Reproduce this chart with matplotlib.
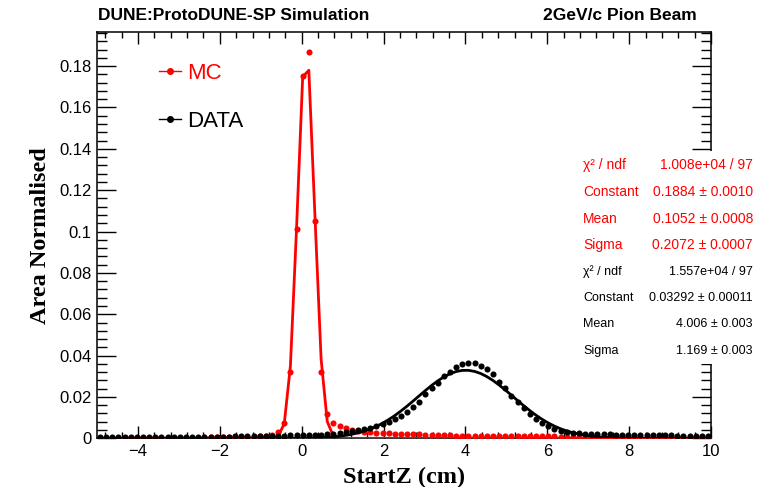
import numpy as np
import matplotlib
matplotlib.use('Agg')
import matplotlib.pyplot as plt
from matplotlib.ticker import MultipleLocator
from matplotlib.lines import Line2D
from matplotlib.patches import Rectangle

plt.rcParams['font.family'] = ['Liberation Sans', 'DejaVu Sans']

# histogram binning: 100 bins between -5 and 10 cm
x_low, x_high, n_bins = -5.0, 10.0, 100
bin_centres = x_low + (np.arange(n_bins) + 0.5) * (x_high - x_low) / n_bins

# MC (red), area normalised
mc_values = [
    0.0002, 0.0002, 0.0001, 0.0002, 0.0002, 0.0002, 0.0002, 0.0003, 0.0002, 0.0002,
    0.0003, 0.0002, 0.0003, 0.0003, 0.0003, 0.0003, 0.0003, 0.0004, 0.0004, 0.0004,
    0.0004, 0.0005, 0.0005, 0.0006, 0.0007, 0.0008, 0.0010, 0.0013, 0.0018, 0.0029,
    0.0072, 0.0321, 0.1013, 0.1754, 0.1870, 0.1051, 0.0321, 0.0118, 0.0076, 0.0060,
    0.0048, 0.0040, 0.0035, 0.0032, 0.0030, 0.0028, 0.0026, 0.0025, 0.0023, 0.0022,
    0.0021, 0.0020, 0.0019, 0.0018, 0.0017, 0.0016, 0.0015, 0.0014, 0.0013, 0.0012,
    0.0012, 0.0011, 0.0011, 0.0011, 0.0010, 0.0010, 0.0010, 0.0010, 0.0009, 0.0009,
    0.0009, 0.0009, 0.0009, 0.0009, 0.0009, 0.0008, 0.0006, 0.0005, 0.0004, 0.0003,
    0.0003, 0.0003, 0.0003, 0.0002, 0.0003, 0.0002, 0.0002, 0.0002, 0.0002, 0.0002,
    0.0002, 0.0002, 0.0001, 0.0002, 0.0002, 0.0001, 0.0002, 0.0001, 0.0001, 0.0001,
]

# DATA (black), area normalised
data_values = [
    0.0005, 0.0005, 0.0005, 0.0005, 0.0005, 0.0006, 0.0005, 0.0006, 0.0006, 0.0006,
    0.0006, 0.0006, 0.0007, 0.0006, 0.0007, 0.0007, 0.0007, 0.0007, 0.0008, 0.0008,
    0.0008, 0.0008, 0.0009, 0.0009, 0.0009, 0.0010, 0.0010, 0.0011, 0.0011, 0.0012,
    0.0013, 0.0014, 0.0014, 0.0015, 0.0015, 0.0016, 0.0017, 0.0020, 0.0023, 0.0027,
    0.0032, 0.0037, 0.0040, 0.0045, 0.0051, 0.0060, 0.0069, 0.0080, 0.0095, 0.0108,
    0.0129, 0.0150, 0.0177, 0.0213, 0.0242, 0.0269, 0.0301, 0.0322, 0.0343, 0.0359,
    0.0366, 0.0363, 0.0351, 0.0334, 0.0310, 0.0274, 0.0242, 0.0205, 0.0174, 0.0145,
    0.0118, 0.0093, 0.0076, 0.0060, 0.0047, 0.0037, 0.0030, 0.0027, 0.0026, 0.0022,
    0.0021, 0.0020, 0.0019, 0.0019, 0.0018, 0.0018, 0.0017, 0.0017, 0.0016, 0.0016,
    0.0015, 0.0015, 0.0014, 0.0014, 0.0013, 0.0013, 0.0012, 0.0012, 0.0011, 0.0011,
]

# gaussian fit results (constant, mean, sigma)
mc_fit = [0.1884, 0.1052, 0.2072]
data_fit = [0.03292, 4.006, 1.169]

stat_labels = ["\u03c7\u00b2 / ndf", "Constant", "Mean", "Sigma"]
mc_stat_values = ["1.008e+04 / 97", "0.1884 \u00b1 0.0010", "0.1052 \u00b1 0.0008", "0.2072 \u00b1 0.0007"]
data_stat_values = ["1.557e+04 / 97", "0.03292 \u00b1 0.00011", "4.006 \u00b1 0.003", "1.169 \u00b1 0.003"]


def gaus(x, pars):
    c, m, s = pars
    return c * np.exp(-0.5 * ((x - m) / s) ** 2)


W, H = 759, 487
fig = plt.figure(figsize=(W / 100, H / 100), dpi=100)
ax = fig.add_axes([97 / W, 1 - 438.3 / H, (711 - 97) / W, (438.3 - 32) / H])

ax.plot(bin_centres, mc_values, 'o', color='red', ms=4.4, mec='none', zorder=3)
ax.plot(bin_centres, gaus(bin_centres, mc_fit), '-', color='red', lw=2, zorder=3)
ax.plot(bin_centres, data_values, 'o', color='black', ms=4.4, mec='none', zorder=4)
ax.plot(bin_centres, gaus(bin_centres, data_fit), '-', color='black', lw=2, zorder=4)

ax.set_xlim(x_low, x_high)
ax.set_ylim(0, 0.1965)

ax.xaxis.set_major_locator(MultipleLocator(2))
ax.xaxis.set_minor_locator(MultipleLocator(0.4))
ax.yaxis.set_major_locator(MultipleLocator(0.02))
ax.yaxis.set_minor_locator(MultipleLocator(0.004))
ax.yaxis.set_major_formatter(plt.FuncFormatter(lambda v, p: '0' if abs(v) < 1e-9 else f'{v:.2f}'.rstrip('0')))

ax.tick_params(axis='both', which='both', direction='in', top=True, right=True, width=1.0, labelsize=12)
ax.tick_params(axis='x', which='major', length=8.8, pad=4)
ax.tick_params(axis='x', which='minor', length=4.4)
ax.tick_params(axis='y', which='major', length=14, pad=4)
ax.tick_params(axis='y', which='minor', length=7)
for sp in ax.spines.values():
    sp.set_linewidth(1.1)

ax.set_xlabel("StartZ (cm)", family='Liberation Serif', fontweight='bold', fontsize=17.5, labelpad=6)
ax.set_ylabel("Area Normalised", family='Liberation Serif', fontweight='bold', fontsize=17.5, labelpad=6)

fig.text(98 / W, 1 - 15 / H, "DUNE:ProtoDUNE-SP Simulation", fontsize=12.5, fontweight='bold', va='center', ha='left')
fig.text(697 / W, 1 - 15 / H, "2GeV/c Pion Beam", fontsize=12.5, fontweight='bold', va='center', ha='right')

handles = [Line2D([], [], color='red', marker='o', ms=4, lw=1),
           Line2D([], [], color='black', marker='o', ms=4, lw=1)]
ax.legend(handles, ["MC", "DATA"], loc='upper left', bbox_to_anchor=(159 / W, 1 - 63 / H),
          bbox_transform=fig.transFigure, fontsize=16, frameon=False, labelcolor='linecolor',
          handlelength=1.0, handletextpad=0.25, labelspacing=1.2, borderpad=0, borderaxespad=0)

# fit statistics box (white, no border, covers the frame)
fig.add_artist(Rectangle((573 / W, 1 - 364 / H), (W - 573) / W, (364 - 151) / H,
                         transform=fig.transFigure, facecolor='white', edgecolor='none', zorder=5))
line_y = [165, 192, 219, 245, 272, 298, 324, 351]
for k, (lab, val) in enumerate(zip(stat_labels + stat_labels, mc_stat_values + data_stat_values)):
    col = 'red' if k < 4 else 'black'
    fs = 10 if k < 4 else 9
    fig.text(583 / W, 1 - line_y[k] / H, lab, color=col, fontsize=fs, va='center', ha='left', zorder=6)
    fig.text(753 / W, 1 - line_y[k] / H, val, color=col, fontsize=fs, va='center', ha='right', zorder=6)

fig.savefig("out.png", dpi=100)
